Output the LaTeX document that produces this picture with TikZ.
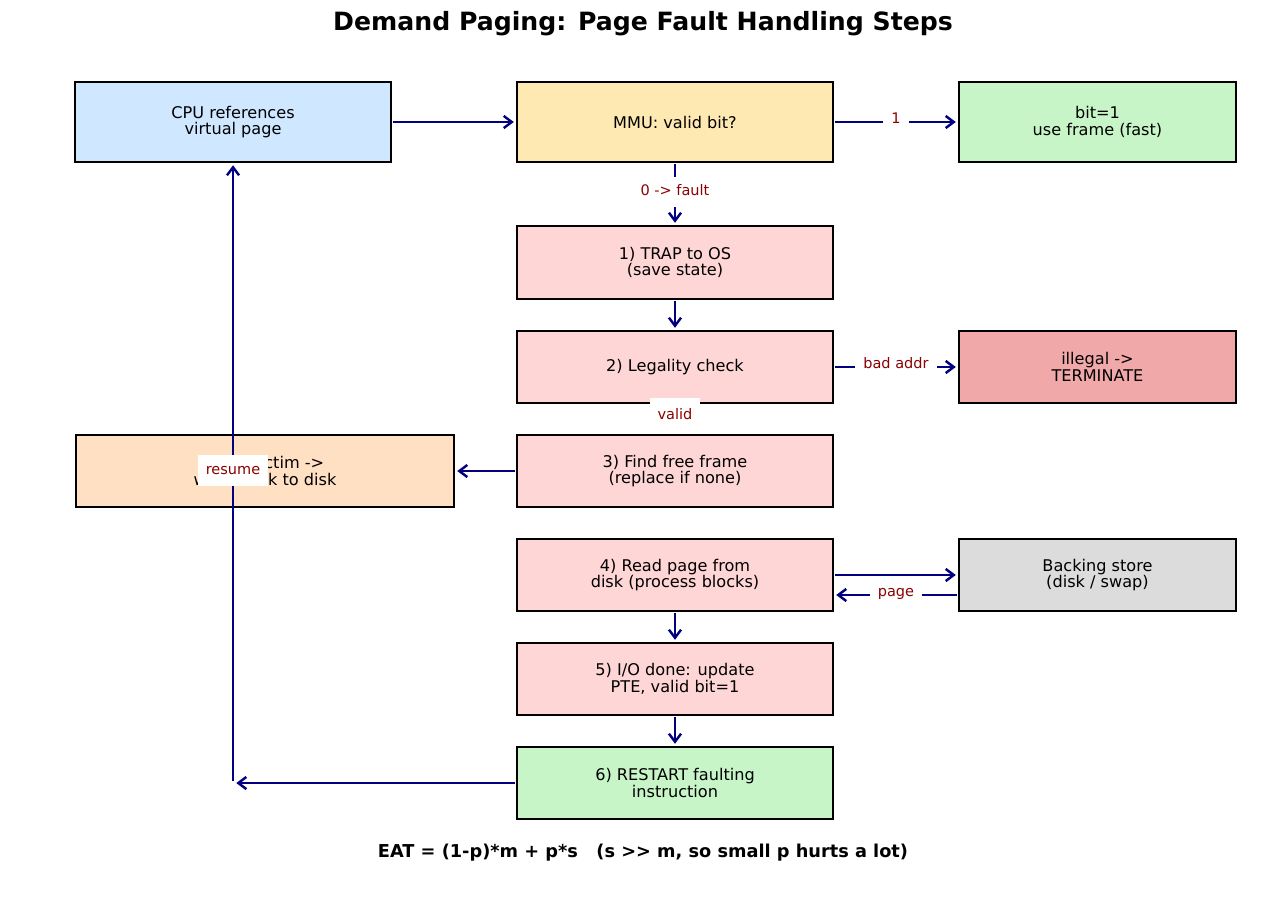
\documentclass[tikz,border=0pt]{standalone}
\usepackage{fontspec}
\setmainfont{DejaVu Sans}
\usepackage{xcolor}
\usetikzlibrary{arrows.meta,positioning}

\definecolor{cpublue}{HTML}{CFE8FF}
\definecolor{mmuyellow}{HTML}{FFE9B3}
\definecolor{okgreen}{HTML}{C8F5C8}
\definecolor{steppink}{HTML}{FFD6D6}
\definecolor{badred}{HTML}{F0A8A8}
\definecolor{victimpeach}{HTML}{FFE0C2}
\definecolor{diskgray}{HTML}{DCDCDC}
\definecolor{arrownavy}{HTML}{000080}
\definecolor{labelred}{HTML}{8B0000}

\begin{document}
\begin{tikzpicture}[
        x=0.62pt, y=-0.62pt,
        box/.style={draw, line width=1.35pt, outer sep=0pt, minimum width=195.9pt, minimum height=44.64pt, inner sep=0pt, align=center, font=\fontsize{10}{10.4}\selectfont},
        tag/.style={fill=white, text=labelred, inner xsep=5pt, inner ysep=5pt, text height=6.8pt, text depth=2.1pt, yshift=1.2pt, font=\fontsize{9}{11}\selectfont},
        flow/.style={->, draw=arrownavy, line width=1.5pt, shorten <=1.5pt, shorten >=2pt},
        >={Straight Barb[length=5pt,width=7.5pt]},
        node distance=19.84pt
    ]
        \useasboundingbox (0,0) rectangle (1287,896);

        \node[font=\bfseries\fontsize{15.6}{18}\selectfont] (title) at (643,24) {Demand Paging: Page Fault Handling Steps};

        \node[box, fill=mmuyellow, minimum height=49.6pt] (mmu) at (675,122) {MMU: valid bit?};
        \node[box, fill=cpublue, minimum height=49.6pt, left=78.12pt of mmu] (cpu) {CPU references\\virtual page};
        \node[box, fill=okgreen, minimum height=49.6pt, minimum width=171.7pt, right=78.12pt of mmu] (hit) {bit=1\\use frame (fast)};
        \node[box, fill=steppink, minimum height=45.26pt, below=39.68pt of mmu] (trap) {1) TRAP to OS\\(save state)};
        \node[box, fill=steppink, below=of trap] (legal) {2) Legality check};
        \node[box, fill=badred, minimum width=171.7pt, right=78.12pt of legal] (illegal) {illegal ->\\TERMINATE};
        \node[box, fill=steppink, below=of legal] (findframe) {3) Find free frame\\(replace if none)};
        \node[box, fill=victimpeach, minimum width=234.4pt, left=39.06pt of findframe] (victim) {Evict victim ->\\write back to disk};
        \node[box, fill=steppink, below=of findframe] (readpage) {4) Read page from\\disk (process blocks)};
        \node[box, fill=diskgray, minimum width=171.7pt, right=78.12pt of readpage] (backing) {Backing store\\(disk / swap)};
        \node[box, fill=steppink, below=of readpage] (iodone) {5) I/O done: update\\PTE, valid bit=1};
        \node[box, fill=okgreen, below=of iodone] (restart) {6) RESTART faulting\\instruction};

        \node[font=\bfseries\fontsize{11}{13}\selectfont] (eat) at (643,853) {EAT = (1-p)*m + p*s\ \ \ (s >{}> m, so small p hurts a lot)};

        \coordinate (turn) at (cpu.south |- restart);

        \draw[flow] (cpu) -- (mmu);
        \draw[flow] (mmu) -- node[tag]{1} (hit);
        \draw[flow] (mmu) -- node[tag]{0 -> fault} (trap);
        \draw[flow] (trap) -- (legal);
        \draw[flow] (legal) -- node[tag]{bad addr} (illegal);
        \draw[flow] (legal) -- node[tag, minimum height=22pt, yshift=1pt]{valid} (findframe);
        \draw[flow] (findframe) -- (victim);
        \draw[flow] (readpage) -- (backing);
        \draw[flow] ([yshift=-12.4pt]backing.west) -- node[tag]{page} ([yshift=-12.4pt]readpage.east);
        \draw[flow] (readpage) -- (iodone);
        \draw[flow] (iodone) -- (restart);
        \draw[flow] (restart) -- (turn);
        \draw[flow] (turn) -- node[tag, pos=0.5]{resume} (cpu);
    \end{tikzpicture}
\end{document}
